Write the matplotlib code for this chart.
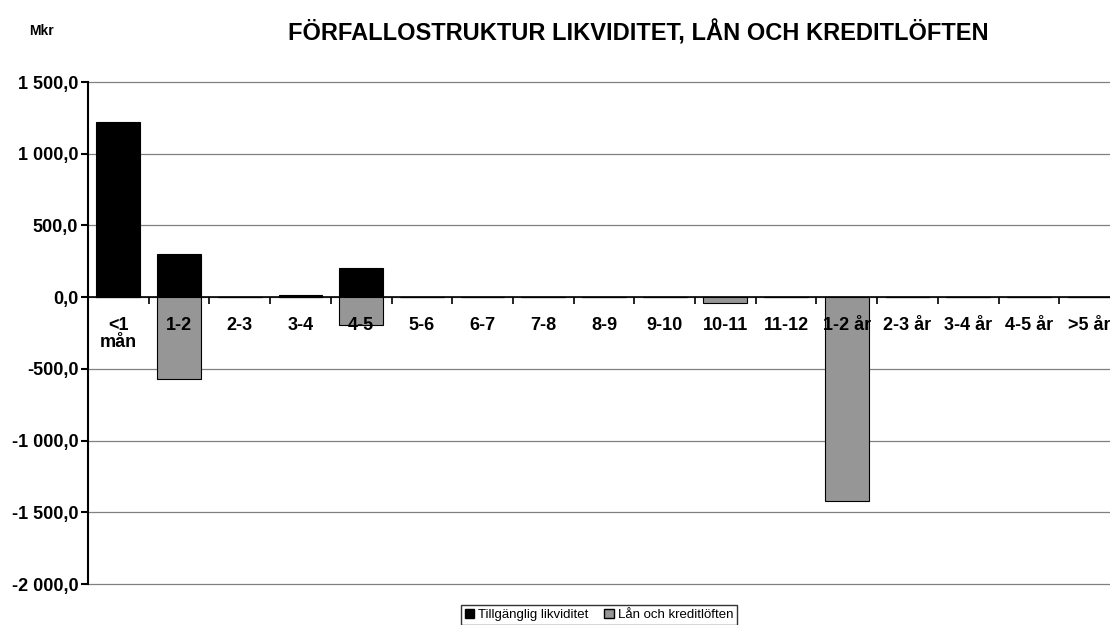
import matplotlib.pyplot as plt
from matplotlib.ticker import FuncFormatter, FixedLocator
from matplotlib.patches import Patch

plt.rcParams['font.family'] = ['Liberation Sans', 'DejaVu Sans']

categories = ['<1\nmån', '1-2', '2-3', '3-4', '4-5', '5-6', '6-7', '7-8', '8-9',
              '9-10', '10-11', '11-12', '1-2 år', '2-3 år', '3-4 år', '4-5 år', '>5 år']
likviditet = [1220, 300, 0, 15, 200, 0, 0, 0, 0, 0, 0, 0, 0, 0, 0, 0, 0]
lan_kredit = [0, -572, 0, 0, -195, 0, 0, 0, 0, 0, -40, 0, -1424, 0, 0, 0, 0]
yticks = [1500, 1000, 500, 0, -500, -1000, -1500, -2000]


def mkr_fmt(v, pos):
    s = f'{abs(v):,.1f}'.replace(',', ' ').replace('.', ',')
    return ('-' if v < 0 else '') + s


fig = plt.figure(figsize=(11.1, 6.25), dpi=100)
ax = fig.add_axes([88 / 1110, 41 / 625, 17 * 60.7 / 1110, 502 / 625])

# gridlines behind the bars
for yv in yticks:
    ax.axhline(yv, color='#808080', linewidth=0.9, zorder=0, clip_on=False)

x = list(range(len(categories)))
ax.bar(x, likviditet, width=0.72, color='black', edgecolor='black', linewidth=0.8, zorder=2)
ax.bar(x, lan_kredit, width=0.72, color='#969696', edgecolor='black', linewidth=0.8, zorder=2)

ax.set_xlim(-0.5, len(categories) - 0.5)
ax.set_ylim(-2000, 1500)
ax.set_yticks(yticks)
ax.yaxis.set_major_formatter(FuncFormatter(mkr_fmt))
ax.tick_params(axis='y', direction='out', length=5, width=1.5, labelsize=13, pad=2)
for lbl in ax.get_yticklabels():
    lbl.set_fontweight('bold')

# zero line carries the category ticks
ax.spines['bottom'].set_position(('data', 0))
ax.spines['bottom'].set_linewidth(1.2)
ax.spines['bottom'].set_zorder(3)
ax.spines['left'].set_linewidth(1.5)
ax.spines['top'].set_visible(False)
ax.spines['right'].set_visible(False)
ax.set_xticks([])
ax.xaxis.set_minor_locator(FixedLocator([i + 0.5 for i in range(-1, len(categories))]))
ax.tick_params(axis='x', which='minor', direction='out', length=5, width=1.2)

# category labels sit on top of the bars
for xi, cat in zip(x, categories):
    ax.annotate(cat, xy=(xi, 0), xytext=(0, -14), textcoords='offset points',
                ha='center', va='top', fontsize=13, fontweight='bold',
                linespacing=1.0, zorder=5, annotation_clip=False)

fig.text(638 / 1110, 1 - 33 / 625, 'FÖRFALLOSTRUKTUR LIKVIDITET, LÅN OCH KREDITLÖFTEN',
         ha='center', va='center', fontsize=17, fontweight='bold')
fig.text(42 / 1110, 1 - 31 / 625, 'Mkr', ha='center', va='center', fontsize=10, fontweight='bold')

handles = [Patch(facecolor='black', edgecolor='black', label='Tillgänglig likviditet'),
           Patch(facecolor='#969696', edgecolor='black', label='Lån och kreditlöften')]
fig.legend(handles=handles, loc='upper center', bbox_to_anchor=(599 / 1110, 1 - 605 / 625),
           ncol=2, fontsize=9.5, frameon=True, fancybox=False, edgecolor='black',
           handlelength=0.7, handleheight=0.7, handletextpad=0.3, columnspacing=1.2,
           borderpad=0.3, borderaxespad=0)

fig.savefig('out.png', dpi=100)
